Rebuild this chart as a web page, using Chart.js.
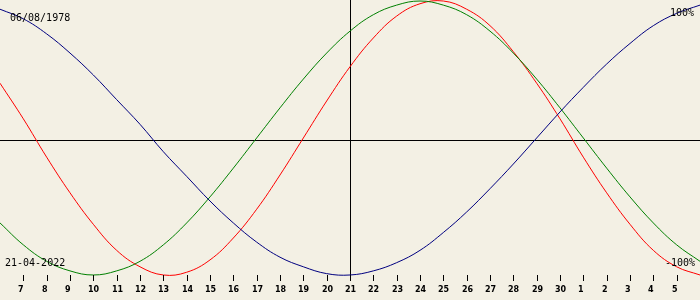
<!DOCTYPE html>
<html>
<head>
<meta charset="utf-8">
<script src="https://cdn.jsdelivr.net/npm/chart.js@4/dist/chart.umd.min.js"></script>
<style>
html,body{margin:0;padding:0;background:#f3f0e4;}
canvas{display:block;}
</style>
</head>
<body>
<canvas id="c" width="700" height="300"></canvas>
<script>
// Days shown (day-of-month sequence, April 2022 -> May 2022), plotted on a continuous day axis
const days = [6,7,8,9,10,11,12,13,14,15,16,17,18,19,20,21,22,23,24,25,26,27,28,29,30,31,32,33,34,35,36];
// Tick positions and their labels
const tickDays = [7,8,9,10,11,12,13,14,15,16,17,18,19,20,21,22,23,24,25,26,27,28,29,30,31,32,33,34,35];
const tickLabels = ['7','8','9','10','11','12','13','14','15','16','17','18','19','20','21','22','23','24','25','26','27','28','29','30','1','2','3','4','5'];
// Series values (percent)
const physical     = [40,14,-14,-40,-63,-82,-94,-100,-98,-89,-73,-52,-27,0,27,52,73,89,98,100,94,82,63,40,14,-14,-40,-63,-82,-94,-100];
const emotional    = [-62,-78,-90,-97,-100,-97,-90,-78,-62,-43,-22,0,22,43,62,78,90,97,100,97,90,78,62,43,22,0,-22,-43,-62,-78,-90];
const intellectual = [94,87,76,62,46,28,10,-10,-28,-46,-62,-76,-87,-94,-99,-100,-97,-91,-82,-69,-54,-37,-19,0,19,37,54,69,82,91,97];
const currentDay = 21;
const axisLevel = -1.5;
const birthText = '06/08/1978';
const dateText = '21-04-2022';
const topText = '100%';
const bottomText = '-100%';

const pts = arr => arr.map((v,i)=>({x:days[i], y:v}));

const decor = {
  id:'decor',
  beforeDraw(chart){
    const c = chart.ctx;
    c.save();
    c.fillStyle = '#f3f0e4';
    c.fillRect(0,0,chart.width,chart.height);
    c.restore();
  },
  beforeDatasetsDraw(chart){
    const c = chart.ctx, xs = chart.scales.x, ys = chart.scales.y;
    c.save();
    c.strokeStyle = '#000';
    c.lineWidth = 1;
    const y0 = Math.round(ys.getPixelForValue(axisLevel)) + 0.5;
    c.beginPath(); c.moveTo(0,y0); c.lineTo(chart.width,y0); c.stroke();
    const xc = Math.round(xs.getPixelForValue(currentDay)) + 0.5;
    c.beginPath(); c.moveTo(xc,0); c.lineTo(xc,280); c.stroke();
    c.restore();
  },
  afterDraw(chart){
    const c = chart.ctx, xs = chart.scales.x;
    c.save();
    c.strokeStyle = '#000';
    c.fillStyle = '#000';
    c.lineWidth = 1;
    c.font = 'bold 8px "DejaVu Sans"';
    c.textAlign = 'left';
    c.textBaseline = 'alphabetic';
    tickDays.forEach((d,i)=>{
      const x = Math.round(xs.getPixelForValue(d)) + 0.5;
      c.beginPath(); c.moveTo(x,275); c.lineTo(x,281); c.stroke();
      c.fillText(tickLabels[i], x - 5.5, 292);
    });
    c.font = '10px "DejaVu Sans Mono"';
    c.fillText(birthText, 10, 21);
    c.fillText(dateText, 5, 266);
    c.textAlign = 'right';
    c.fillText(topText, 694, 16);
    c.fillText(bottomText, 695, 266);
    c.restore();
  }
};

new Chart(document.getElementById('c'), {
  type:'line',
  data:{
    datasets:[
      {data:pts(intellectual), borderColor:'#000080', borderWidth:1, pointRadius:0, tension:0.4, fill:false},
      {data:pts(emotional), borderColor:'#008000', borderWidth:1, pointRadius:0, tension:0.4, fill:false},
      {data:pts(physical), borderColor:'#ff0000', borderWidth:1, pointRadius:0, tension:0.4, fill:false}
    ]
  },
  options:{
    responsive:false,
    animation:false,
    devicePixelRatio:1,
    layout:{padding:0},
    plugins:{legend:{display:false}, tooltip:{enabled:false}},
    scales:{
      x:{type:'linear', min:6, max:36, display:false},
      y:{min:-118.25, max:100.73, display:false}
    }
  },
  plugins:[decor]
});
</script>
</body>
</html>
